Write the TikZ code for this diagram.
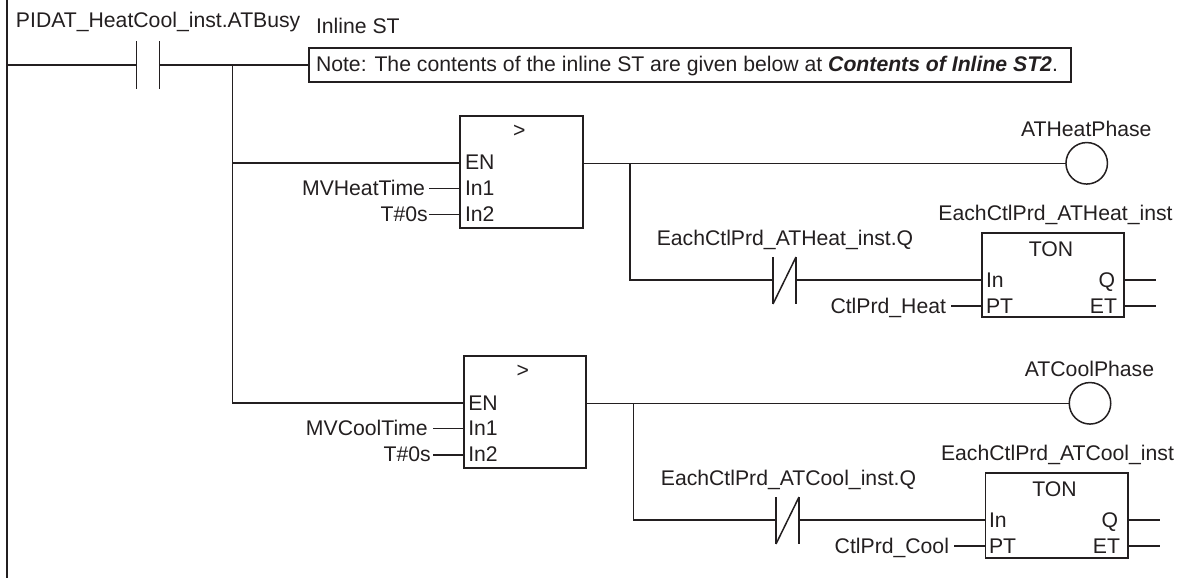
\documentclass[tikz,border=0pt]{standalone}
\usepackage{fontspec}
\setmainfont{Liberation Sans}
\definecolor{ink}{HTML}{231F20}
\tikzset{
  lbl/.style={inner sep=0pt,outer sep=0pt,text=ink,font=\fontsize{21.2}{24}\selectfont},
  blk/.style={draw=ink,line width=1.8pt,inner sep=0pt,outer sep=0pt,anchor=north west},
  wire/.style={draw=ink,line width=1.5pt},
  bar/.style={draw=ink,line width=1.5pt},
  coil/.style={draw=ink,line width=1.5pt,circle,inner sep=0pt,outer sep=0pt,minimum size=41.5pt},
}
\begin{document}
\begin{tikzpicture}[x=1pt,y=-1pt]
\useasboundingbox (0,0) rectangle (1186,581);
% rail
\coordinate (railT) at (6.7,0);
\coordinate (railB) at (6.7,578);
\draw[draw=ink,line width=2.3pt] (railT) -- (railB);
\coordinate (r1) at (6.7,65);
% contact 1
\coordinate (c1a) at (136.7,65); \coordinate (c1b) at (159.3,65);
\draw[bar] (136.7,41) -- (136.7,89);
\draw[bar] (159.3,41) -- (159.3,89);
\draw[wire] (r1) -- (c1a);
\node[lbl,anchor=base west] (t1) at (16,27.3) {PIDAT\_HeatCool\_inst.ATBusy};
\node[lbl,anchor=base west] (t2) at (316,33.3) {Inline ST};
% note
\node[blk,minimum width=762pt,minimum height=34.6pt] (note) at (309,47.7) {};
\node[lbl,anchor=base west] at (316,71.7) {Note: The contents of the inline ST are given below at \textbf{\textit{Contents of Inline ST2}}.};
\coordinate (j0) at (232.3,65);
\draw[wire] (c1b) -- (note.west);
% block 1
\node[blk,minimum width=122.7pt,minimum height=112pt] (g1) at (460,115.7) {};
\node[lbl,anchor=base] at (519.3,137.3) {>};
\node[lbl,anchor=base west] at (465,169.3) {EN};
\node[lbl,anchor=base west] at (465,195.3) {In1};
\node[lbl,anchor=base west] at (465,221) {In2};
\coordinate (g1en) at (460,163);
\coordinate (j1) at (232.3,163);
\draw[wire] (j0) -- (j1) -- (g1en);
\node[lbl,anchor=base east] at (425,195.3) {MVHeatTime};
\node[lbl,anchor=base east] at (427.7,221) {T\#0s};
\coordinate (g1a) at (429,188.7); \coordinate (g1b) at (429,214.3);
\draw[wire] (g1a) -- (460,188.7);
\draw[wire] (g1b) -- (460,214.3);
% heat coil
\node[coil] (coilH) at (1086.7,163.3) {};
\node[lbl,anchor=base] at (1086.3,136) {ATHeatPhase};
\coordinate (j2) at (630,163.3);
\draw[wire] (582.7,163.3) -- (coilH.west);
% NC heat
\coordinate (n1a) at (773,280); \coordinate (n1b) at (796,280); \coordinate (j2b) at (630,280);
\draw[wire] (j2) -- (j2b) -- (n1a);
\draw[bar] (773,257) -- (773,304);
\draw[bar] (796,257) -- (796,304);
\draw[bar] (773,304) -- (796,257);
\node[lbl,anchor=base] at (785,245.5) {EachCtlPrd\_ATHeat\_inst.Q};
% TON heat
\node[blk,minimum width=142.3pt,minimum height=84pt] (tonH) at (982,233) {};
\node[lbl,anchor=base] at (1051,256) {TON};
\node[lbl,anchor=base west] at (986,287) {In};
\node[lbl,anchor=base west] at (986,313) {PT};
\node[lbl,anchor=base east] at (1115,287) {Q};
\node[lbl,anchor=base east] at (1117,313) {ET};
\node[lbl,anchor=base] at (1055.5,220.5) {EachCtlPrd\_ATHeat\_inst};
\node[lbl,anchor=base east] at (946,313) {CtlPrd\_Heat};
\coordinate (ph) at (951,306); \coordinate (qh) at (1156,280); \coordinate (eh) at (1156,306);
\draw[wire] (n1b) -- (982,280);
\draw[wire] (ph) -- (982,306);
\draw[wire] (1124.3,280) -- (qh);
\draw[wire] (1124.3,306) -- (eh);
% block 2
\node[blk,minimum width=122pt,minimum height=112pt] (g2) at (464,356) {};
\node[lbl,anchor=base] at (522.7,377) {>};
\node[lbl,anchor=base west] at (468.3,410) {EN};
\node[lbl,anchor=base west] at (468.3,435.7) {In1};
\node[lbl,anchor=base west] at (468.3,461.7) {In2};
\coordinate (j3) at (232.3,403);
\draw[wire] (j1) -- (j3) -- (464,403);
\node[lbl,anchor=base east] at (427.7,435.7) {MVCoolTime};
\node[lbl,anchor=base east] at (430.7,461.7) {T\#0s};
\coordinate (g2a) at (433,428.3); \coordinate (g2b) at (433,455);
\draw[wire] (g2a) -- (464,428.3);
\draw[wire] (g2b) -- (464,455);
% cool coil
\node[coil] (coilC) at (1090,403.3) {};
\node[lbl,anchor=base] at (1089.5,376) {ATCoolPhase};
\coordinate (j4) at (633.3,403.3);
\draw[wire] (586,403.3) -- (coilC.west);
% NC cool
\coordinate (n2a) at (776,520); \coordinate (n2b) at (799,520); \coordinate (j4b) at (633.3,520);
\draw[wire] (j4) -- (j4b) -- (n2a);
\draw[bar] (776,497) -- (776,544);
\draw[bar] (799,497) -- (799,544);
\draw[bar] (776,544) -- (799,497);
\node[lbl,anchor=base] at (788.5,485.5) {EachCtlPrd\_ATCool\_inst.Q};
% TON cool
\node[blk,minimum width=142.5pt,minimum height=85pt] (tonC) at (985.5,473) {};
\node[lbl,anchor=base] at (1054.5,496) {TON};
\node[lbl,anchor=base west] at (989,527) {In};
\node[lbl,anchor=base west] at (989,553) {PT};
\node[lbl,anchor=base east] at (1118,527) {Q};
\node[lbl,anchor=base east] at (1120,553) {ET};
\node[lbl,anchor=base] at (1057.5,460.5) {EachCtlPrd\_ATCool\_inst};
\node[lbl,anchor=base east] at (949,553) {CtlPrd\_Cool};
\coordinate (pc) at (954,546); \coordinate (qc) at (1160,520); \coordinate (ec) at (1160,546);
\draw[wire] (n2b) -- (985.5,520);
\draw[wire] (pc) -- (985.5,546);
\draw[wire] (1128,520) -- (qc);
\draw[wire] (1128,546) -- (ec);
\end{tikzpicture}
\end{document}
